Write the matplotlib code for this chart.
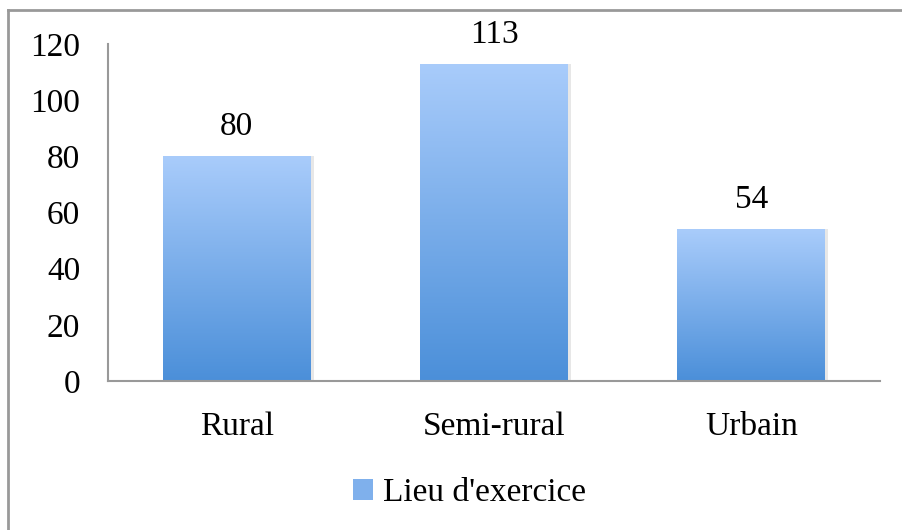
import numpy as np
import matplotlib.pyplot as plt
from matplotlib.lines import Line2D
from matplotlib.patches import Patch
from matplotlib.colors import LinearSegmentedColormap

categories = ["Rural", "Semi-rural", "Urbain"]
values = [80, 113, 54]
series_name = "Lieu d'exercice"
yticks = [0, 20, 40, 60, 80, 100, 120]

plt.rcParams['font.family'] = ['Liberation Serif', 'DejaVu Serif']
fs = 24

fig = plt.figure(figsize=(9.03, 5.30), dpi=100)
ax = fig.add_axes([0.1196, 0.2811, 0.8549, 0.6359])

grad = LinearSegmentedColormap.from_list("g", ["#4b8fd9", "#a9ccfb"])
x = np.arange(len(categories))
width = 0.575
bars = ax.bar(x, values, width, color="none", edgecolor="none", zorder=2)
for b in bars:
    x0, y0 = b.get_x(), b.get_y()
    w, h = b.get_width(), b.get_height()
    # light shadow on right side
    ax.bar(x0 + w / 2 + 0.012, h, w, bottom=0, color="#d8d8d8", zorder=1.5, alpha=0.6)
    img = ax.imshow(np.linspace(0, 1, 256).reshape(-1, 1), cmap=grad, origin="lower",
                    extent=[x0, x0 + w, y0, y0 + h], aspect="auto", zorder=2)
    img.set_clip_path(b)
    ax.text(x0 + w / 2, h + 5, str(int(h)), ha="center", va="bottom", fontsize=fs)

ax.set_xlim(-0.5, len(categories) - 0.5)
ax.set_ylim(0, 120)
ax.set_yticks(yticks)
ax.set_xticks(x)
ax.set_xticklabels(categories)
ax.tick_params(axis="both", length=0, labelsize=fs)
ax.tick_params(axis="y", pad=20)
ax.tick_params(axis="x", pad=22)
for s in ["top", "right"]:
    ax.spines[s].set_visible(False)
for s in ["left", "bottom"]:
    ax.spines[s].set_color("#999999")
    ax.spines[s].set_linewidth(1.5)
    ax.spines[s].set_zorder(3)

handle = Patch(facecolor="#7fb0ec", edgecolor="none")
fig.legend([handle], [series_name], loc="center", bbox_to_anchor=(0.52, 0.07),
           frameon=False, fontsize=fs, handlelength=0.6, handleheight=0.6, handletextpad=0.3)

# outer chart border (top and left only)
fig.add_artist(Line2D([8 / 903, 1], [1 - 9.5 / 530, 1 - 9.5 / 530], color="#999999", lw=2,
                      transform=fig.transFigure))
fig.add_artist(Line2D([8 / 903, 8 / 903], [0, 1 - 9.5 / 530], color="#999999", lw=2,
                      transform=fig.transFigure))

fig.savefig("out.png", dpi=100)
